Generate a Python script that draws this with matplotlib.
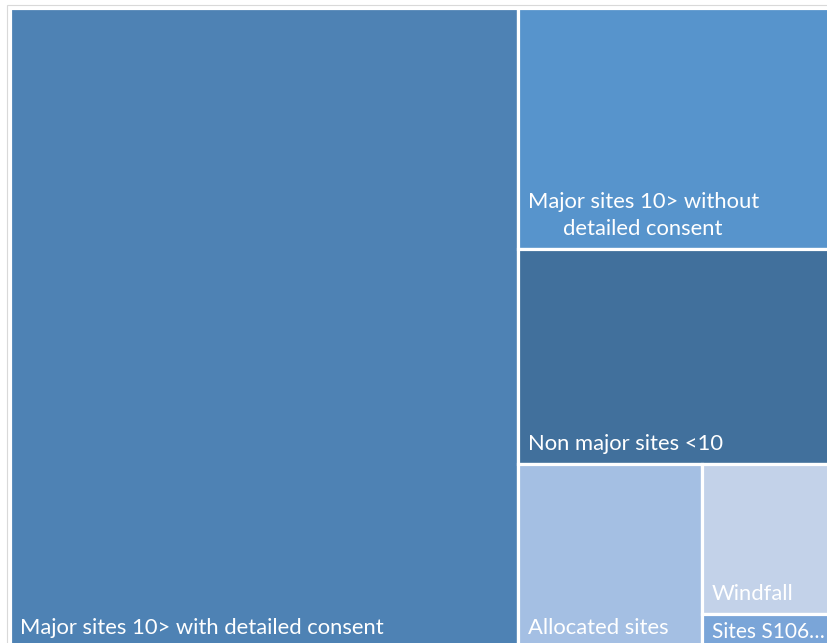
import matplotlib
matplotlib.use("Agg")
import matplotlib.pyplot as plt
from matplotlib.patches import Rectangle

labels = ["Major sites 10> with detailed consent",
          "Major sites 10> without\ndetailed consent",
          "Non major sites <10",
          "Allocated sites",
          "Windfall",
          "Sites S106…"]
values = [3218, 746, 667, 335, 190, 43]
colors = ["#4E82B4", "#5794CC", "#41709C", "#A4BFE3", "#C3D2E9", "#7AA5D8"]
font_sizes = [15.8, 15.8, 15.8, 15.8, 15.8, 15.0]

FIG_W, FIG_H = 827, 643
X0, Y0, W, H = 10, 8, 820, 640


def worst(row, length):
    s = sum(row)
    return max(max(length * length * r / (s * s), s * s / (length * length * r)) for r in row)


def squarify(vals, x, y, w, h):
    total = sum(vals)
    scale = w * h / total
    areas = [v * scale for v in vals]
    rects = []
    i = 0
    while i < len(areas):
        length = min(w, h)
        row = [areas[i]]
        j = i + 1
        while j < len(areas) and worst(row + [areas[j]], length) <= worst(row, length):
            row.append(areas[j])
            j += 1
        s = sum(row)
        if w >= h:  # column on the left
            cw = s / h
            cy = y
            for a in row:
                rh = a / cw
                rects.append((x, cy, cw, rh))
                cy += rh
            x += cw
            w -= cw
        else:  # row at top
            rh = s / w
            cx = x
            for a in row:
                rw = a / rh
                rects.append((cx, y, rw, rh))
                cx += rw
            y += rh
            h -= rh
        i = j
    return rects


fig = plt.figure(figsize=(FIG_W / 100, FIG_H / 100), dpi=100)
ax = fig.add_axes([0, 0, 1, 1])
ax.set_xlim(0, FIG_W)
ax.set_ylim(FIG_H, 0)
ax.axis("off")

ax.add_patch(Rectangle((7, 5), 900, 900, facecolor="white", edgecolor="#D9D9D9", lw=0.8))

rects = squarify(values, X0, Y0, W, H)
for (rx, ry, rw, rh), lab, c, fs in zip(rects, labels, colors, font_sizes):
    ax.add_patch(Rectangle((rx, ry), rw, rh, facecolor=c, edgecolor="white", lw=2.3))
    base = max(ry + rh - 14, ry + 24)
    ax.text(rx + 10, base, lab, color="white", fontsize=fs, family="Lato",
            ha="left", va="baseline", multialignment="center", linespacing=1.45)

fig.savefig("out.png", dpi=100)
